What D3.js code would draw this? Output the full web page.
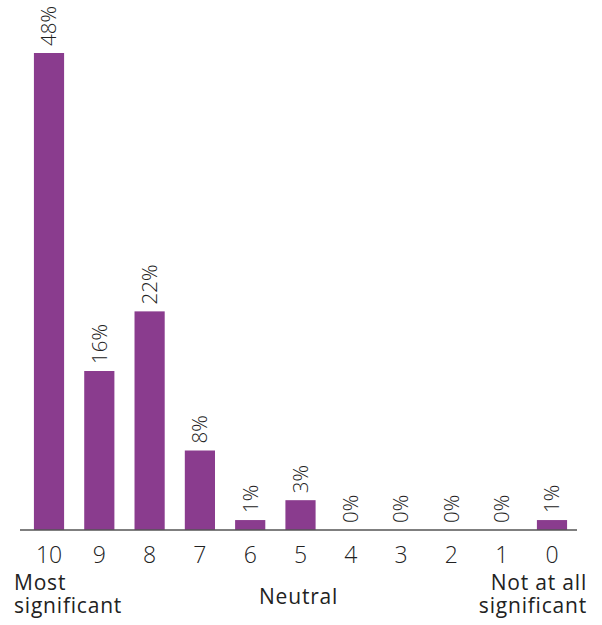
<!DOCTYPE html>
<html>
<head>
<meta charset="utf-8">
<script src="https://cdn.jsdelivr.net/npm/d3@7"></script>
<style>
  html, body { margin: 0; padding: 0; background: #fff; }
  svg { display: block; font-family: "Open Sans", Lato, sans-serif; }
</style>
</head>
<body>
<svg id="chart" width="602" height="625"></svg>
<script>
// Rating scale from 10 (most significant) down to 0 (not at all significant)
const categories = ["10", "9", "8", "7", "6", "5", "4", "3", "2", "1", "0"];
const shares = [48, 16, 22, 8, 1, 3, 0, 0, 0, 0, 1];
const valueLabels = ["48%", "16%", "22%", "8%", "1%", "3%", "0%", "0%", "0%", "0%", "1%"];

const svg = d3.select("#chart");
const baseY = 530;

const x = d3.scaleBand()
  .domain(categories)
  .range([13.8, 587.2])
  .paddingInner(0.4)
  .paddingOuter(0.4);

const y = d3.scaleLinear()
  .domain([0, 48])
  .range([baseY, 53]);

const data = categories.map((c, i) => ({ cat: c, value: shares[i], label: valueLabels[i] }));

// bars
svg.append("g")
  .selectAll("rect")
  .data(data)
  .join("rect")
  .attr("x", d => x(d.cat))
  .attr("width", x.bandwidth())
  .attr("y", d => y(d.value))
  .attr("height", d => y(0) - y(d.value))
  .attr("fill", "#8a3c8e");

// baseline
svg.append("line")
  .attr("x1", 20).attr("x2", 577)
  .attr("y1", y(0)).attr("y2", y(0))
  .attr("stroke", "#555")
  .attr("stroke-width", 1.6);

// rotated value labels above each bar
svg.append("g")
  .selectAll("text")
  .data(data)
  .join("text")
  .attr("transform", d => `translate(${x(d.cat) + x.bandwidth() / 2},${y(d.value) - 7}) rotate(-90)`)
  .attr("dy", "0.36em")
  .attr("text-anchor", "start")
  .attr("font-size", 20.5)
  .attr("font-weight", 300)
  .attr("fill", "#222")
  .text(d => d.label);

// category axis
const axis = svg.append("g")
  .attr("transform", `translate(0,${baseY})`)
  .call(d3.axisBottom(x).tickSize(0).tickPadding(0));
axis.select(".domain").remove();
axis.selectAll("text")
  .attr("y", 33)
  .attr("dy", 0)
  .attr("font-size", 23)
  .attr("font-family", "'Open Sans', Lato, sans-serif")
  .attr("font-weight", 300)
  .attr("fill", "#222");

// scale end descriptions, two-line blocks as tspans
const notes = svg.append("g")
  .attr("font-size", 21)
  .attr("letter-spacing", 0.8)
  .attr("fill", "#222");

const most = notes.append("text").attr("y", 590);
most.append("tspan").attr("x", 14).text("Most");
most.append("tspan").attr("x", 14).attr("dy", 23).text("significant");

notes.append("text").attr("x", 259).attr("y", 604).text("Neutral");

const least = notes.append("text").attr("y", 590).attr("text-anchor", "end");
least.append("tspan").attr("x", 587).text("Not at all");
least.append("tspan").attr("x", 587).attr("dy", 23).text("significant");
</script>
</body>
</html>
